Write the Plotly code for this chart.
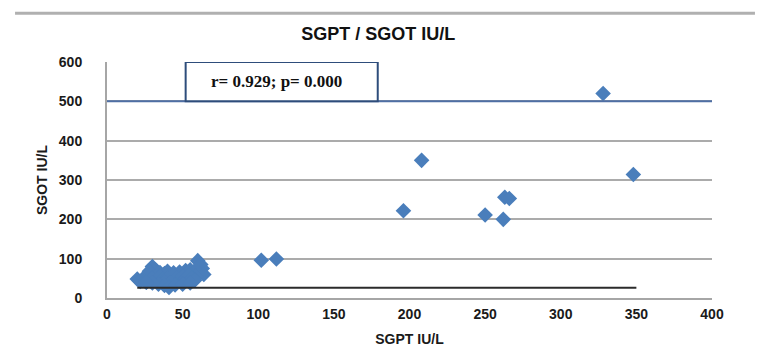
import plotly.graph_objects as go

# ---- data ----
sgpt = [20, 22, 24, 26, 28, 26, 30, 32, 28, 35, 38, 40, 44, 48, 52, 55, 58,
        60, 62, 63, 61, 64, 59, 30, 33, 35, 37, 40, 42, 44, 46, 48, 50, 52, 54,
        56, 58, 38, 42, 34, 38, 41, 45, 50, 55, 30, 26,
        102, 112, 196, 208, 250, 262, 263, 266, 328, 348]
sgot = [48, 42, 50, 45, 55, 40, 80, 72, 68, 65, 62, 68, 64, 66, 70, 72, 68,
        95, 85, 75, 62, 60, 55, 50, 45, 55, 48, 52, 45, 58, 50, 44, 55, 48, 58,
        50, 45, 40, 38, 35, 32, 27, 33, 35, 38, 38, 40,
        96, 99, 222, 350, 211, 200, 256, 253, 520, 314]

line_x = [20, 350]
line_y = [26, 26]

x_ticks = [0, 50, 100, 150, 200, 250, 300, 350, 400]
y_ticks = [0, 100, 200, 300, 400, 500, 600]

title_text = "SGPT / SGOT IU/L"
x_title = "SGPT IU/L"
y_title = "SGOT IU/L"
stat_text = "r= 0.929; p= 0.000"

FONT = "Liberation Sans, Arial"

fig = go.Figure()
fig.add_trace(go.Scatter(
    x=sgpt, y=sgot, mode="markers",
    marker=dict(symbol="diamond", size=12, color="#4A7EBB", line=dict(width=0)),
    showlegend=False, cliponaxis=False))
fig.add_trace(go.Scatter(
    x=line_x, y=line_y, mode="lines",
    line=dict(color="#2b2b2b", width=2), showlegend=False))

tickfont = dict(family=FONT, size=14, color="#1a1a1a", weight="bold")

fig.update_layout(
    width=764, height=354,
    margin=dict(l=107, r=52, t=62, b=56),
    paper_bgcolor="white", plot_bgcolor="white",
    title=dict(text="<b>" + title_text + "</b>", x=0.495, xanchor="center",
               y=0.905, yanchor="middle",
               font=dict(family=FONT, size=18, color="#111")),
    xaxis=dict(range=[0, 400], tickvals=x_ticks, showgrid=False, zeroline=False,
               showline=True, linecolor="#A6A6A6", linewidth=2, automargin=False,
               tickfont=tickfont, ticks="", ticklabelstandoff=2,
               title=dict(text="<b>" + x_title + "</b>", standoff=13,
                          font=dict(family=FONT, size=14, color="#1a1a1a"))),
    yaxis=dict(range=[0, 600], tickvals=y_ticks, showgrid=True, gridcolor="#ABABAB",
               gridwidth=1.5, zeroline=False, showline=True, linecolor="#A6A6A6",
               linewidth=2, tickfont=tickfont, ticks="", ticklabelstandoff=20,
               automargin=False,
               title=dict(text="<b>" + y_title + "</b>", standoff=8,
                          font=dict(family=FONT, size=14, color="#1a1a1a"))),
)

# blue line at 500 and stats box
fig.add_shape(type="line", xref="paper", yref="y", x0=0, x1=1, y0=500, y1=500,
              line=dict(color="#4F6FA5", width=2), layer="above")
fig.add_shape(type="rect", xref="x", yref="y", x0=52, x1=179, y0=500, y1=600,
              line=dict(color="#2E4D7B", width=2), fillcolor="white", layer="above")
fig.add_annotation(x=112, y=550, xref="x", yref="y", showarrow=False,
                   text="<b>" + stat_text + "</b>",
                   font=dict(family="Liberation Serif, Times New Roman", size=17, color="#111"))
# top decorative rule
fig.add_shape(type="line", xref="paper", yref="paper", x0=-0.152, x1=1.071,
              y0=1.207, y1=1.207, line=dict(color="#B0B0B0", width=3))

fig.write_html("out.html")
